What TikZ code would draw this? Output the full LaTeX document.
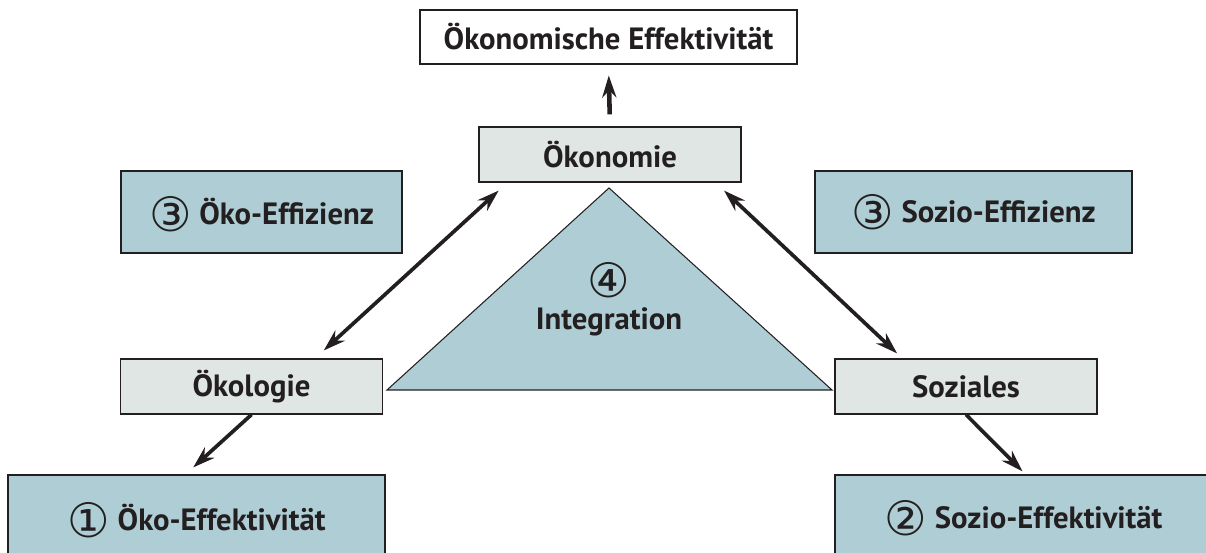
\documentclass[tikz,border=0pt]{standalone}
\usepackage{fontspec}
\setmainfont{PT Sans}
\newfontfamily\ziffer{DejaVu Sans}
\usetikzlibrary{arrows.meta,calc}
\definecolor{tuerkis}{HTML}{AFCDD4}
\definecolor{hellgrau}{HTML}{DFE6E4}
\definecolor{linie}{HTML}{231F20}
\tikzset{
	kasten/.style={
		draw=linie,
		line width=0.7pt,
		text=linie,
		inner sep=0pt,
		font=\bfseries\fontsize{17.5}{20}\selectfont
	},
	saeule/.style={kasten, fill=hellgrau, minimum width=5.24cm, minimum height=1.1cm},
	ziel/.style={kasten, fill=tuerkis},
	pfeil/.style={-{Stealth[length=12.5pt,width=8pt]}, line width=2.1pt, draw=linie},
	doppelpfeil/.style={{Stealth[length=12.5pt,width=8pt]}-{Stealth[length=12.5pt,width=8pt]}, line width=2.1pt, draw=linie}
}
\newcommand{\ring}[1]{{\ziffer\mdseries\fontsize{27}{27}\selectfont #1}}
\newcommand{\kreis}[1]{\smash{\raisebox{-3.8pt}{\ring{#1}}}}

\begin{document}
\begin{tikzpicture}[x=0.02cm,y=-0.02cm]
			\useasboundingbox (0,0) rectangle (1206,553);
			\clip (0,0) rectangle (1206,553);
			\draw [fill=tuerkis, draw=linie, line width=0.6pt] (609,188) -- (387,390) -- (832,390) -- cycle;
			\node [kasten, fill=white, minimum width=7.54cm, minimum height=1.08cm] (oekeff) at (608.5,37) {Ökonomische Effektivität};
			\node [saeule] (oekonomie) at (610,154.5) {Ökonomie};
			\node [saeule] (oekologie) at (251.5,386.5) {Ökologie};
			\node [saeule] (soziales) at (966,386.5) {Soziales};
			\node [ziel, minimum width=5.62cm, minimum height=1.64cm] (oekoeffiz) at (261.5,212) {\kreis{③} Öko-Effizienz};
			\node [ziel, minimum width=6.34cm, minimum height=1.64cm] (sozioeffiz) at (973.5,212) {\kreis{③} Sozio-Effizienz};
			\node [ziel, minimum width=7.54cm, minimum height=1.72cm] (oekoeffekt) at (196.5,518) {\kreis{①} Öko-Effektivität};
			\node [ziel, minimum width=7.54cm, minimum height=1.72cm] (sozioeffekt) at (1023.5,518) {\kreis{②} Sozio-Effektivität};
			\node [text=linie, align=center, font=\bfseries\fontsize{17.5}{19}\selectfont] (integration) at (609,299) {\ring{④}\\[-1pt]Integration};
			\draw [pfeil, line width=2.6pt, shorten <=6.8pt, shorten >=6.2pt] (oekonomie.north) -- (oekeff.south);
			\draw [doppelpfeil, shorten <=6.7pt, shorten >=6.7pt] ($(oekologie.north east)+(-68,0)$) -- ($(oekonomie.south west)+(29,0)$);
			\draw [doppelpfeil, shorten <=6.6pt, shorten >=4.1pt] ($(oekonomie.south east)+(-26,0)$) -- ($(soziales.north west)+(68,0)$);
			\draw [pfeil, shorten >=5.9pt] (oekologie.south) -- ($(oekoeffekt.north)+(-11,0)$);
			\draw [pfeil, shorten >=2.4pt] (soziales.south) -- ($(sozioeffekt.north)+(2,0)$);
		\end{tikzpicture}
\end{document}
